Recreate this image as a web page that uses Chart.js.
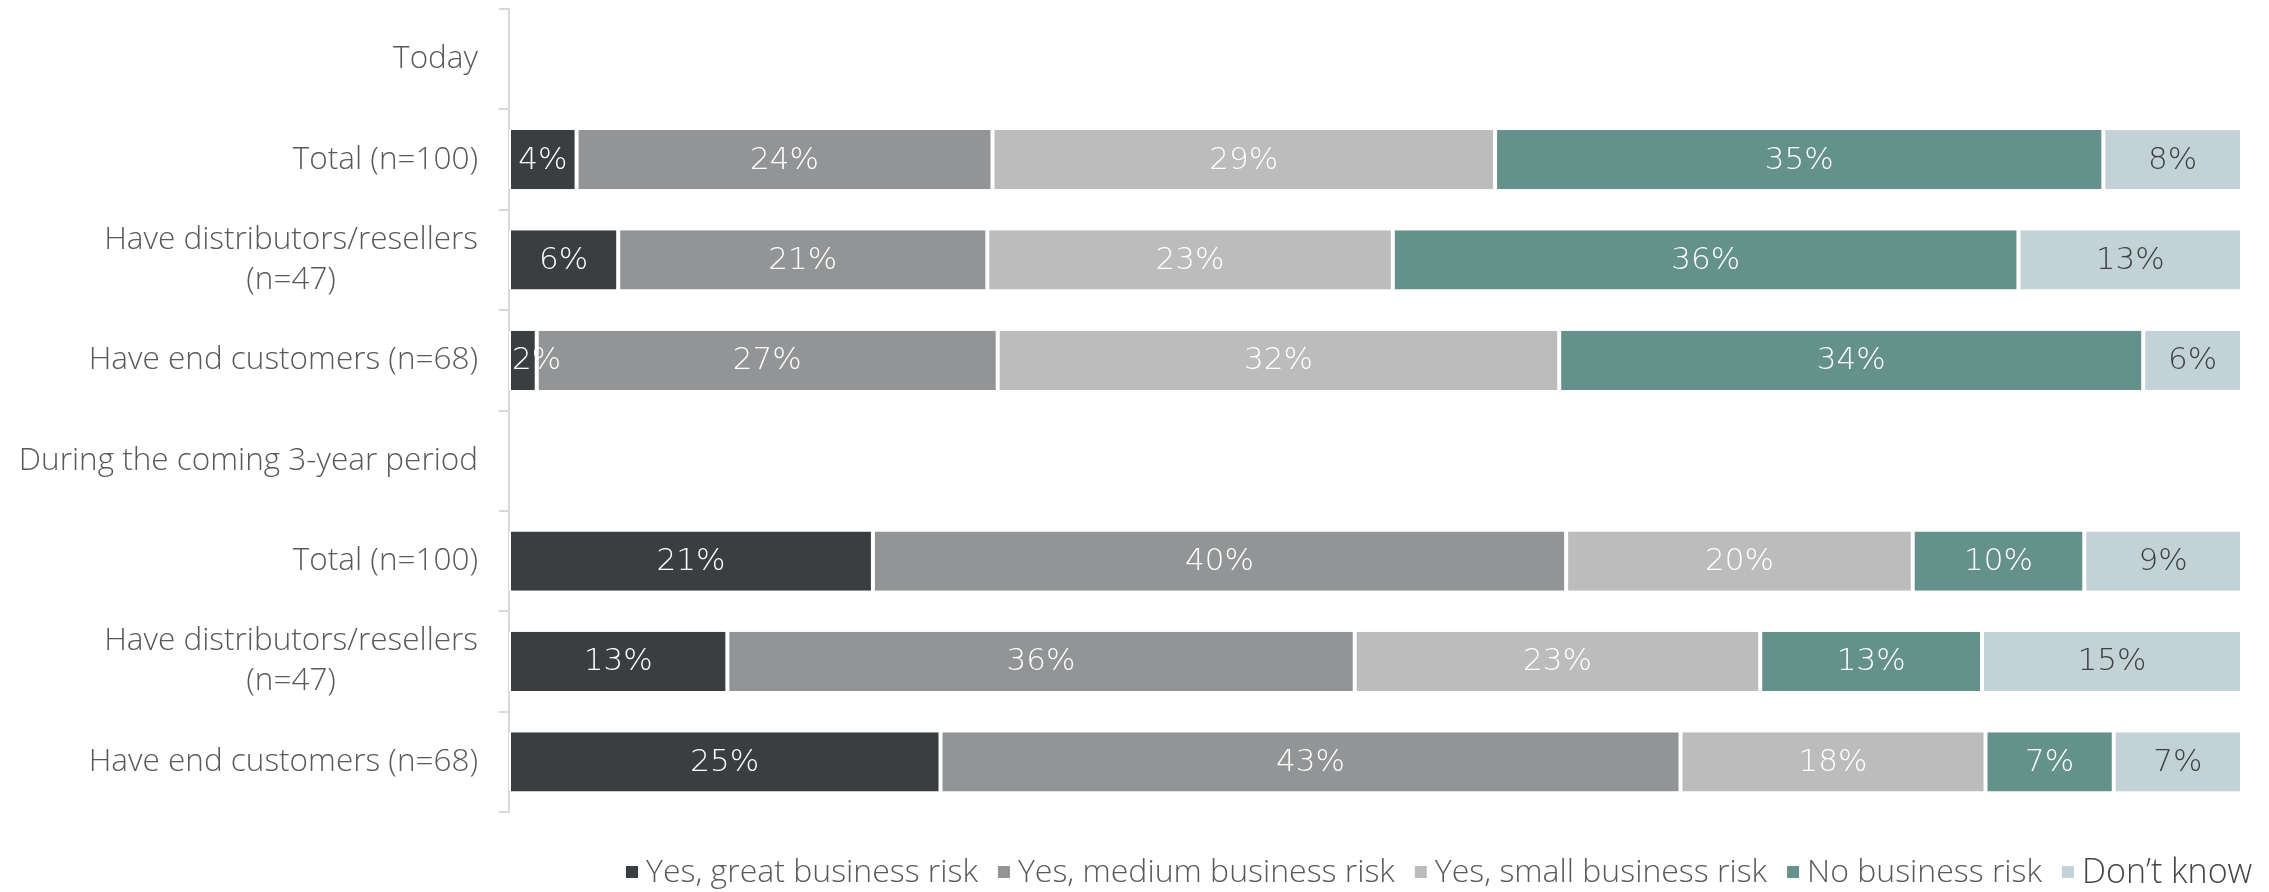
<!DOCTYPE html>
<html>
<head>
<meta charset="utf-8">
<script src="https://cdn.jsdelivr.net/npm/chart.js@4.4.1/dist/chart.umd.min.js"></script>
<style>
html,body{margin:0;padding:0;background:#ffffff;}
#c{display:block;}
</style>
</head>
<body>
<canvas id="c" width="2269" height="892"></canvas>
<script>
// ---- data ----
const categories = [
  ['Today'],
  ['Total (n=100)'],
  ['Have distributors/resellers', '(n=47)'],
  ['Have end customers (n=68)'],
  ['During the coming 3-year period'],
  ['Total (n=100)'],
  ['Have distributors/resellers', '(n=47)'],
  ['Have end customers (n=68)']
];
const seriesNames = ['Yes, great business risk', 'Yes, medium business risk', 'Yes, small business risk', 'No business risk', 'Don\u2019t know'];
const greatRisk  = [null, 3.9, 6.3, 1.6, null, 21.0, 12.6, 24.9];
const mediumRisk = [null, 24.0, 21.3, 26.6, null, 40.0, 36.2, 42.7];
const smallRisk  = [null, 29.0, 23.4, 32.4, null, 20.0, 23.4, 17.6];
const noRisk     = [null, 35.1, 36.1, 33.7, null, 9.9, 12.8, 7.4];
const dontKnow   = [null, 8.0, 12.9, 5.7, null, 9.1, 15.0, 7.4];

const seriesValues = [greatRisk, mediumRisk, smallRisk, noRisk, dontKnow];
const seriesColors = ['#3b3e41', '#939495', '#bcbcbc', '#64918a', '#c3d2d7'];
const valueTextColors = ['#ffffff', '#ffffff', '#ffffff', '#ffffff', '#404040'];
const legendTextColors = ['#595959', '#595959', '#595959', '#595959', '#454545'];

const LABEL_FONT = '300 31.5px "Open Sans", Lato, sans-serif';
const VALUE_FONT = '200 31px "DejaVu Sans", sans-serif';
const LEGEND_FONT = '300 32px "Open Sans", Lato, sans-serif';
const LEGEND_LAST_FONT = '300 34px "Open Sans", Lato, sans-serif';

// ---- plugins ----
const valueLabels = {
  id: 'valueLabels',
  afterDatasetDraw(chart, args) {
    const ctx = chart.ctx;
    const ds = chart.data.datasets[args.index];
    const left = chart.chartArea.left;
    ctx.save();
    ctx.font = VALUE_FONT;
    ctx.textAlign = 'center';
    ctx.textBaseline = 'middle';
    ctx.fillStyle = valueTextColors[args.index];
    args.meta.data.forEach((bar, i) => {
      const v = ds.data[i];
      if (v === null || v === undefined) return;
      const txt = Math.round(v) + '%';
      const w = ctx.measureText(txt).width;
      const cx = Math.max((bar.x + bar.base) / 2, left + w / 2 + 3);
      ctx.fillText(txt, cx, bar.y + 1);
    });
    ctx.restore();
  }
};

const categoryLabels = {
  id: 'categoryLabels',
  afterDraw(chart) {
    const ctx = chart.ctx;
    const ys = chart.scales.y;
    const rightX = ys.right - 10 - 21;
    const lh = 40;
    ctx.save();
    ctx.font = LABEL_FONT;
    ctx.fillStyle = '#595959';
    ctx.textBaseline = 'middle';
    categories.forEach((lines, i) => {
      const cy = ys.getPixelForValue(i);
      const w1 = ctx.measureText(lines[0]).width;
      const center = rightX - w1 / 2;
      const top = cy - (lines.length - 1) * lh / 2;
      lines.forEach((t, k) => {
        ctx.textAlign = 'center';
        ctx.fillText(t, center, top + k * lh);
      });
    });
    ctx.restore();
  }
};

const bottomLegend = {
  id: 'bottomLegend',
  afterDraw(chart) {
    const ctx = chart.ctx;
    ctx.save();
    ctx.textBaseline = 'middle';
    ctx.textAlign = 'left';
    const y = 873;
    let x = 626;
    const n = chart.data.datasets.length;
    chart.data.datasets.forEach((ds, i) => {
      ctx.font = (i === n - 1) ? LEGEND_LAST_FONT : LEGEND_FONT;
      ctx.fillStyle = ds.backgroundColor;
      ctx.fillRect(x, y - 7, 12, 12);
      x += 20;
      ctx.fillStyle = legendTextColors[i];
      ctx.fillText(ds.label, x, y);
      x += ctx.measureText(ds.label).width + 20;
    });
    ctx.restore();
  }
};

const datasets = seriesNames.map((name, i) => ({
  label: name,
  data: seriesValues[i],
  backgroundColor: seriesColors[i],
  borderColor: '#ffffff',
  borderWidth: { left: 2, right: 2, top: 0, bottom: 0 },
  borderSkipped: false,
  barPercentage: 0.59,
  categoryPercentage: 1.0
}));

new Chart(document.getElementById('c'), {
  type: 'bar',
  data: {
    labels: categories,
    datasets: datasets
  },
  options: {
    indexAxis: 'y',
    responsive: false,
    animation: false,
    devicePixelRatio: 1,
    layout: { padding: { top: 9, bottom: 80, left: 0, right: 27 } },
    plugins: {
      legend: { display: false },
      tooltip: { enabled: false }
    },
    scales: {
      x: {
        display: false,
        stacked: true,
        min: 0,
        max: 100
      },
      y: {
        stacked: true,
        offset: true,
        ticks: { display: false },
        grid: {
          offset: true,
          drawOnChartArea: false,
          drawTicks: true,
          tickLength: 10,
          color: '#d9d9d9',
          lineWidth: 2
        },
        border: { display: true, color: '#d9d9d9', width: 2 },
        afterFit(scale) { scale.width = 509; }
      }
    }
  },
  plugins: [valueLabels, categoryLabels, bottomLegend]
});
</script>
</body>
</html>
